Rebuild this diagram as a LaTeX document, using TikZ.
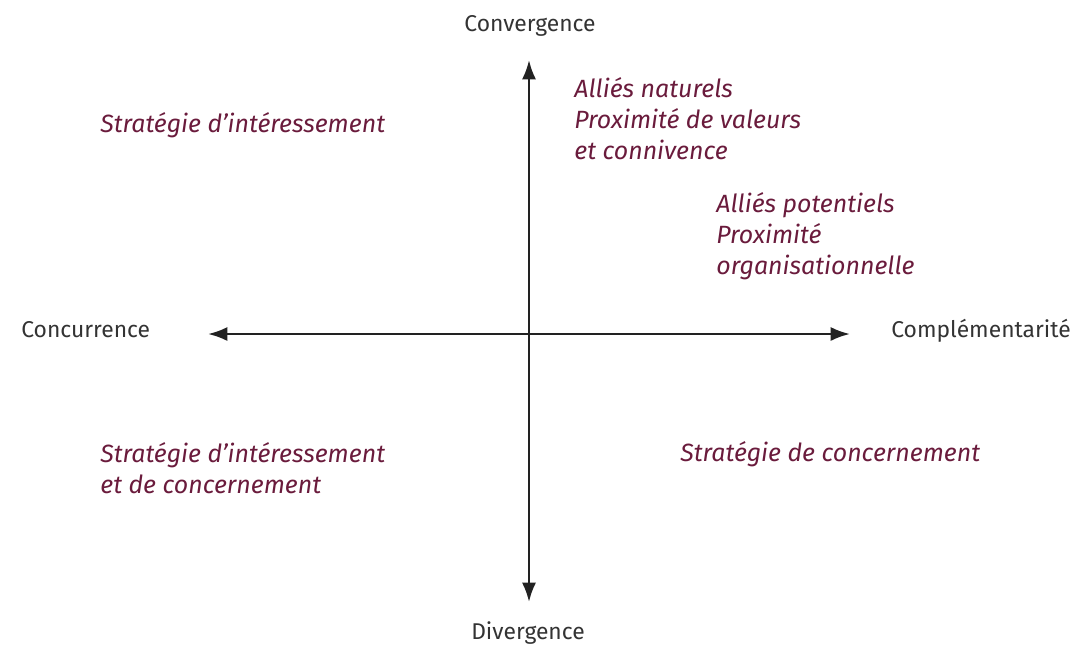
\documentclass[tikz,border=0pt]{standalone}
\usepackage{fontspec}
\setmainfont{Fira Sans}
\definecolor{axisgray}{HTML}{222222}
\definecolor{labelgray}{HTML}{333333}
\definecolor{wine}{HTML}{6A1B3C}
\usetikzlibrary{positioning, arrows.meta}

\begin{document}
\begin{tikzpicture}[x=0.02cm, y=-0.02cm,
  axis/.style={axisgray, line width=1.4pt, {Latex[length=11pt, width=8pt]}-{Latex[length=11pt, width=8pt]}},
  pole/.style={font=\fontsize{13}{15}\selectfont, text=labelgray, inner sep=0pt, anchor=base},
  zone/.style={font=\fontsize{14.2}{17.5}\selectfont\itshape, text=wine, align=left, anchor=base west, inner sep=0pt}]
  \useasboundingbox (0,0) rectangle (1077,647);
  % axes
  \coordinate (top) at (529,60);
  \coordinate (bottom) at (529,602);
  \coordinate (left) at (208,334);
  \coordinate (right) at (850,334);
  \draw[axis] (top) -- (bottom);
  \draw[axis] (left) -- (right);
  % poles
  \node[pole] (conv) at (530,31) {Convergence};
  \node[pole] (div) at (528,639) {Divergence};
  \node[pole, anchor=base west] (concu) at (21,337) {Concurrence};
  \node[pole, anchor=base west] (compl) at (891,337) {Complémentarité};
  % quadrants (base = last line)
  \node[zone] (interet) at (100,132) {Stratégie d’intéressement};
  \node[zone] (naturels) at (574,159) {Alliés naturels\\Proximité de valeurs\\et connivence};
  \node[zone] (potentiels) at (716,274) {Alliés potentiels\\Proximité\\organisationnelle};
  \node[zone] (interconc) at (100,493) {Stratégie d’intéressement\\et de concernement};
  \node[zone] (concern) at (680,461) {Stratégie de concernement};
\end{tikzpicture}
\end{document}
